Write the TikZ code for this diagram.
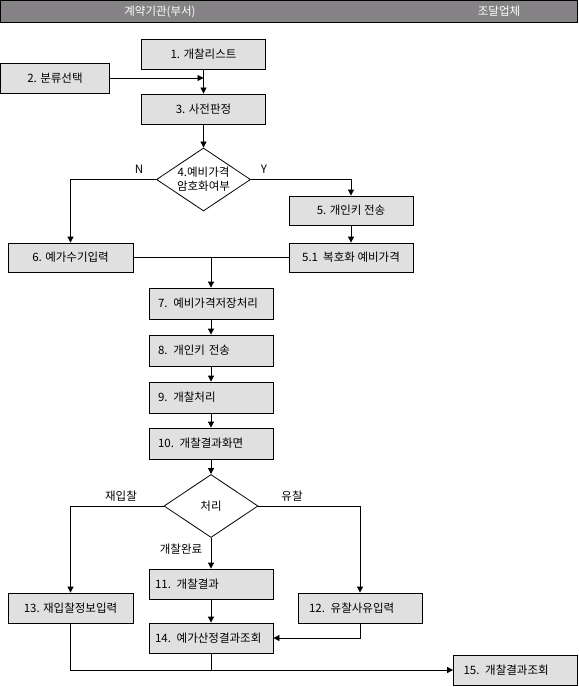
\documentclass[tikz,border=0pt]{standalone}
\usepackage{fontspec}
\setmainfont{Noto Sans CJK KR}
\usetikzlibrary{shapes.geometric, arrows.meta, positioning}
\definecolor{cbox}{RGB}{224,224,224}
\definecolor{chead}{RGB}{133,131,133}

\begin{document}
\begin{tikzpicture}[x=1pt, y=-1pt,
  every node/.style={font=\fontsize{11.5}{14}\selectfont},
  box/.style={draw, fill=cbox, line width=0.8pt, minimum width=124pt, minimum height=30pt, inner sep=0pt, align=center},
  lbox/.style={box, align=left, text width=106pt, inner xsep=9pt},
  dec/.style={draw, diamond, line width=0.8pt, minimum width=94pt, minimum height=63pt, inner sep=0pt},
  arr/.style={-{Triangle[length=6pt,width=6pt]}, line width=0.8pt},
  lnk/.style={-, line width=0.8pt}
]
\useasboundingbox (0,0) rectangle (578,687);
\node[draw, fill=chead, line width=0.8pt, minimum width=577pt, minimum height=22.5pt, inner sep=0pt] (hdr) at (289,11.5) {};
\node[text=white] (hl) at (160,11.5) {계약기관(부서)};
\node[text=white] (hr) at (499,11.5) {조달업체};
\node[box] (b1) at (203.5,54.5) {1. 개찰리스트};
\node[box, minimum width=109pt] (b2) at (55,78) {2. 분류선택};
\node[box] (b3) at (203.5,109) {3. 사전판정};
\node[dec] (d4) at (203.5,179.5) {};
\node[align=center, inner sep=0pt] (d4t) at (d4.center) {4.예비가격\\암호화여부};
\node[box, minimum height=29pt] (b5) at (351,210.5) {5. 개인키 전송};
\node[box, minimum height=29pt] (b51) at (351,257.5) {5.1 \ 복호화 예비가격};
\node[box, minimum width=125pt, minimum height=29pt] (b6) at (70.5,257.5) {6. 예가수기입력};
\node[lbox, minimum height=31pt] (b7) at (211,303.5) {7. 예비가격저장처리};
\node[lbox, minimum height=31pt] (b8) at (211,350.5) {8. 개인키 전송};
\node[lbox, minimum height=31pt] (b9) at (211,397.5) {9. 개찰처리};
\node[lbox, minimum height=31pt] (b10) at (211,443.5) {10. 개찰결과화면};
\node[dec] (d10) at (211,506) {};
\node[inner sep=0pt] (d10t) at (d10.center) {처리};
\node[lbox, inner xsep=6pt, text width=112pt] (b11) at (211,584) {11. 개찰결과};
\node[lbox, inner xsep=11pt, text width=102pt] (b12) at (360,608) {12. 유찰사유입력};
\node[box, minimum width=125pt] (b13) at (70.5,608) {13. 재입찰정보입력};
\node[lbox, inner xsep=6pt, text width=112pt] (b14) at (211,638) {\mbox{14. 예가산정결과조회}};
\node[lbox, inner xsep=10pt, text width=104pt] (b15) at (515.5,670) {15. 개찰결과조회};
\node (lN) at (139,169) {N};
\node (lY) at (264,169) {Y};
\node (lR) at (121,496) {재입찰};
\node (lU) at (292,496) {유찰};
\node (lC) at (181,549) {개찰완료};
\draw[arr] (b1) -- (b3);
\draw[arr] (b2) -- (b2 -| b1);
\draw[arr] (b3) -- (d4);
\draw[arr] (d4.west) -| (b6.north);
\draw[arr] (d4.east) -| (b5.north);
\draw[arr] (b5) -- (b51);
\draw[lnk] (b6) -- (b51);
\coordinate (j7) at (b7.north |- b6.east);
\draw[arr] (j7) -- (b7);
\foreach \a/\b in {b7/b8, b8/b9, b9/b10, b10/d10}
  \draw[arr] (\a) -- (\b);
\draw[arr] (d10.west) -| (b13.north);
\draw[arr] (d10.east) -| (b12.north);
\draw[arr] (d10) -- (b11);
\draw[arr] (b11) -- (b14);
\draw[arr] (b12.south) |- (b14.east);
\draw[arr] (b13.south) |- (b15.west);
\draw[lnk] (b14.south) -- (b14.south |- b15.west);
\end{tikzpicture}
\end{document}
